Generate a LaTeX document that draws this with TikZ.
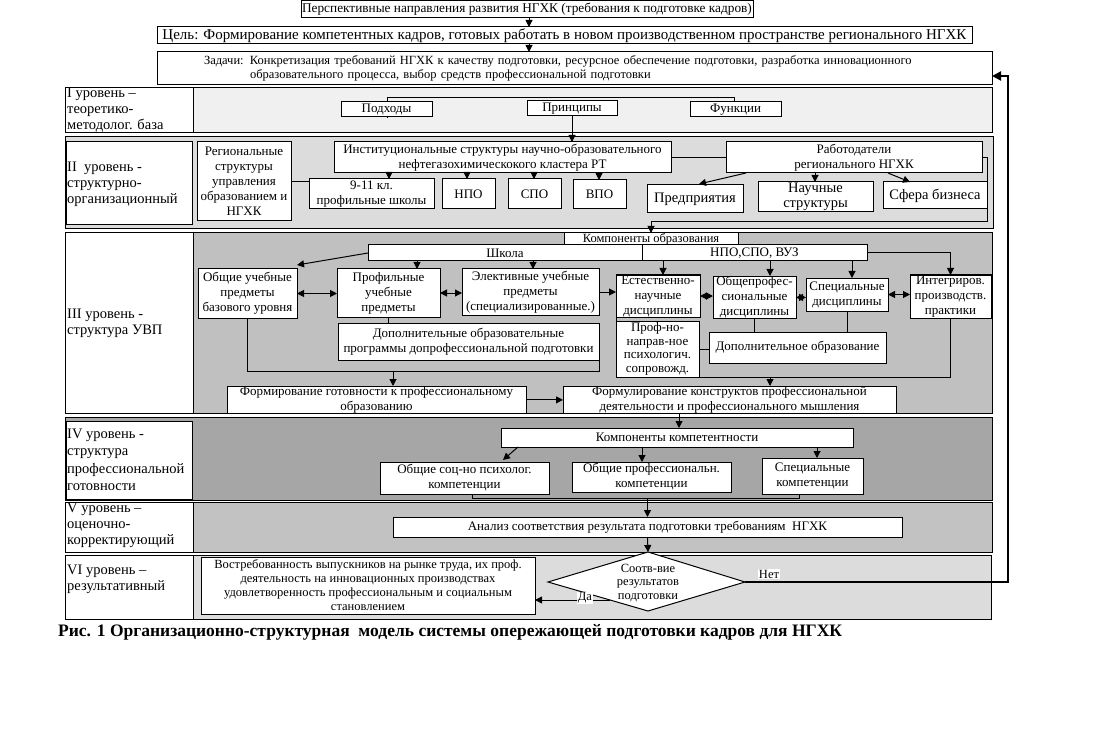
\documentclass[tikz,border=0pt]{standalone}
\usepackage{fontspec}
\setmainfont{Liberation Serif}
\usetikzlibrary{arrows.meta,calc}
\definecolor{lvA}{HTML}{F0F0F0}
\definecolor{lvB}{HTML}{DCDCDC}
\definecolor{lvC}{HTML}{C0C0C0}
\definecolor{lvD}{HTML}{A6A6A6}
\definecolor{lvE}{HTML}{C2C2C2}
\definecolor{lvF}{HTML}{DCDCDC}
\tikzset{
  box/.style={draw, fill=white, line width=1pt, inner sep=0.5pt, outer sep=0pt, align=center, font=\fontsize{13}{15}\selectfont},
  ln/.style={line width=1pt},
  arr/.style={line width=1pt, -{Triangle[length=7pt,width=7pt]}},
  dbl/.style={line width=1pt, {Triangle[length=7pt,width=7pt]}-{Triangle[length=7pt,width=7pt]}},
  thk/.style={line width=2pt, -{Triangle[length=9pt,width=9pt]}},
  rowbox/.style={draw, line width=1pt},
  lbl/.style={align=left, inner sep=0pt, font=\fontsize{14.5}{16}\selectfont},
  tag/.style={fill=white, inner sep=1pt, font=\fontsize{12.5}{14}\selectfont},
}
\newcommand\mybox[7][]{\node[box,anchor=north west,minimum width={(#4-#2)*1pt},minimum height={(#5-#3)*1pt},#1] (#6) at (#2,#3) {#7};}
\begin{document}
\begin{tikzpicture}[x=1pt,y=-1pt]
\useasboundingbox (0,0) rectangle (1098,730);
\fill[white] (0,0) rectangle (1098,730);
% ---------- top ----------
\mybox[font=\fontsize{13.3}{15}\selectfont]{301}{1}{753}{18}{t1}{Перспективные направления развития НГХК (требования к подготовке кадров)}
\mybox[font=\fontsize{15}{17}\selectfont]{157}{27}{972}{44}{t2}{Цель: Формирование компетентных кадров, готовых работать в новом производственном пространстве регионального НГХК}
\mybox[font=\fontsize{12.5}{14.5}\selectfont, align=left, text width=741pt]{157}{52}{992}{85}{t3}{Задачи: Конкретизация требований НГХК к качеству подготовки, ресурсное обеспечение подготовки, разработка инновационного\\\hspace*{46pt}образовательного процесса, выбор средств профессиональной подготовки}
\coordinate (ax) at (529,0);
\draw[arr] (t1.south -| ax) -- (t2.north -| ax);
\draw[arr] (t2.south -| ax) -- (t3.north -| ax);
% ---------- rows ----------
\draw[rowbox, fill=lvA] (65,88) rectangle (992,133);
\draw[rowbox, fill=white] (65,88) rectangle (193,133);
\node[lbl, anchor=north west] at (67,88) {I уровень –\\теоретико-\\методолог. база};
\draw[rowbox, fill=lvB] (65,137) rectangle (993,229);
\draw[rowbox, fill=white] (66,142) rectangle (192,225);
\node[lbl, anchor=west] at (67,184) {II~ уровень -\\структурно-\\организационный};
\draw[rowbox, fill=lvC] (65,233) rectangle (992,413);
\draw[rowbox, fill=white] (65,233) rectangle (193,413);
\node[lbl, anchor=west] at (67,323) {III уровень -\\структура УВП};
\draw[rowbox, fill=lvD] (65,417) rectangle (992,500);
\draw[rowbox, fill=white] (66,421) rectangle (192,499);
\node[lbl, anchor=west, font=\fontsize{14.5}{17.5}\selectfont] at (67,460) {IV уровень -\\структура\\профессиональной\\готовности};
\draw[rowbox, fill=lvE] (65,502) rectangle (992,552);
\draw[rowbox, fill=white] (65,502) rectangle (193,552);
\node[lbl, anchor=north west] at (67,503) {V уровень –\\оценочно-\\корректирующий};
\draw[rowbox, fill=lvF] (65,555) rectangle (991,619);
\draw[rowbox, fill=white] (65,555) rectangle (193,619);
\node[lbl, anchor=north west] at (67,565) {VI уровень –\\результативный};
% ---------- level I ----------
\draw[ln] (387,118) -- (387,98) -- (734,98) -- (734,102);
\mybox{341}{102}{432}{117}{pod}{Подходы}
\mybox{527}{101}{617}{116}{pri}{Принципы}
\mybox{690}{102}{781}{117}{fun}{Функции}
% ---------- level II ----------
\mybox{197}{142}{291}{221}{reg}{Региональные\\структуры\\управления\\образованием и\\НГХК}
\mybox{334}{142}{671}{173}{inst}{Институциональные структуры научно-образовательного\\нефтегазохимическокого кластера РТ}
\mybox{309}{179}{434}{209}{kl}{9-11 кл.\\профильные школы}
\mybox{442}{179}{495}{209}{npo}{НПО}
\mybox{508}{179}{561}{209}{spo}{СПО}
\mybox{573}{180}{626}{209}{vpo}{ВПО}
\mybox{726}{142}{982}{173}{rab}{Работодатели\\регионального НГХК}
\mybox[font=\fontsize{14.5}{16}\selectfont]{647}{185}{743}{213}{pred}{Предприятия}
\mybox[font=\fontsize{14.5}{15}\selectfont]{758}{182}{873}{212}{nauch}{Научные\\структуры}
\mybox[font=\fontsize{14.5}{16}\selectfont]{883}{182}{987}{209}{sfera}{Сфера бизнеса}
\draw[arr] (pri.south) -- (pri.south |- inst.north);
\draw[ln] (reg.east) -- (reg.east -| kl.west);
\draw[ln] (inst.east) -- (rab.west);
\draw[arr] ($(inst.south west)+(55,0)$) -- ($(kl.north west)+(80,0)$);
\draw[arr] ($(inst.south west)+(133,0)$) -- ($(npo.north west)+(25,0)$);
\draw[arr] ($(inst.south west)+(200,0)$) -- ($(spo.north west)+(26,0)$);
\draw[arr] ($(inst.south west)+(265,0)$) -- ($(vpo.north west)+(26,0)$);
\draw[arr] ($(rab.south west)+(20,0)$) -- ($(pred.north west)+(52,-1)$);
\draw[arr] ($(rab.south west)+(89,0)$) -- ($(nauch.north west)+(57,0)$);
\draw[arr] ($(rab.south west)+(162,0)$) -- ($(sfera.north west)+(27,0)$);
% ---------- level III ----------
\mybox[inner sep=0pt, font=\fontsize{12.5}{13}\selectfont]{564}{233}{738}{245}{komp}{Компоненты образования}
\mybox[inner sep=0pt]{368}{245}{642}{261}{shk}{Школа}
\mybox[inner sep=0pt]{642}{245}{867}{261}{vuz}{НПО,СПО, ВУЗ}
\coordinate (c1) at (987,222);
\draw[arr] (rab.east) -| (c1) -| (komp.north);
\mybox{198}{269}{297}{318}{obsh}{Общие учебные\\предметы\\базового уровня}
\mybox{337}{269}{440}{317}{prof}{Профильные\\учебные\\предметы}
\mybox{462}{269}{599}{315}{elek}{Элективные учебные\\предметы\\(специализированные.)}
\mybox{616}{275}{700}{316}{est}{Естественно-\\научные\\дисциплины}
\mybox{713}{276}{796}{318}{opr}{Общепрофес-\\сиональные\\дисциплины}
\mybox{806}{278}{888}{311}{spec}{Специальные\\дисциплины}
\mybox{910}{275}{991}{318}{integ}{Интегриров.\\производств.\\практики}
\mybox{338}{323}{599}{360}{dopa}{Дополнительные образовательные\\программы допрофессиональной подготовки}
\mybox[font=\fontsize{13}{13.6}\selectfont, inner sep=0pt]{616}{321}{699}{377}{pnp}{Проф-но-\\направ-ное\\психологич.\\сопровожд.}
\mybox{709}{332}{886}{363}{dopo}{Дополнительное образование}
\mybox{227}{386}{526}{413}{formg}{Формирование готовности к профессиональному\\образованию}
\mybox{563}{386}{896}{413}{formk}{Формулирование конструктов профессиональной\\деятельности и профессионального мышления}
\draw[arr] (shk.west) -- ($(obsh.north east)+(0,-4)$);
\draw[arr] ($(shk.south west)+(49,0)$) -- ($(prof.north west)+(80,0)$);
\draw[arr] ($(shk.south west)+(165,0)$) -- ($(elek.north west)+(71,0)$);
\draw[arr] ($(vuz.south west)+(21,0)$) -- ($(est.north west)+(47,0)$);
\draw[arr] ($(vuz.south west)+(128,0)$) -- ($(opr.north west)+(57,0)$);
\draw[arr] ($(vuz.south west)+(210,0)$) -- ($(spec.north west)+(46,0)$);
\draw[arr] (vuz.east) -| (integ.north);
\draw[dbl] (obsh.east) -- (obsh.east -| prof.west);
\draw[dbl] (prof.east) -- (prof.east -| elek.west);
\draw[arr] (elek.east) -- (elek.east -| est.west);
\draw[dbl] (est.east) -- (est.east -| opr.west);
\draw[dbl] (opr.east) -- (opr.east -| spec.west);
\draw[dbl] (spec.east) -- (spec.east -| integ.west);
\draw[ln] (prof.south) -- (prof.south |- dopa.north);
\draw[ln] (opr.south) -- (opr.south |- dopo.north);
\draw[ln] (spec.south) -- (spec.south |- dopo.north);
\draw[ln] (pnp.east) -- (pnp.east -| dopo.west);
\draw[ln] (est.south west) -- (pnp.north west);
\coordinate (lbR) at (599,371);
\draw[ln] (obsh.south) |- (lbR) -- (dopa.south east);
\coordinate (lbA) at (393,371);
\draw[arr] (lbA) -- (lbA |- formg.north);
\draw[ln] (pnp.south east) -- (pnp.south east -| integ.south) -- (integ.south);
\coordinate (rbA) at (770,377);
\draw[arr] (rbA) -- (rbA |- formk.north);
\draw[arr] (formg.east) -- (formg.east -| formk.west);
% ---------- level IV ----------
\mybox{501}{428}{853}{447}{kk}{Компоненты компетентности}
\mybox{380}{462}{549}{494}{oc}{Общие соц-но психолог.\\компетенции}
\mybox{572}{462}{731}{492}{op}{Общие профессиональн.\\компетенции}
\mybox{762}{458}{863}{494}{sc}{Специальные\\компетенции}
\draw[arr] ($(formk.south west)+(116,0)$) -- ($(kk.north west)+(178,0)$);
\draw[arr] ($(kk.south west)+(17,0)$) -- ($(oc.north west)+(123,-2)$);
\draw[arr] ($(kk.south west)+(141,0)$) -- ($(op.north west)+(70,0)$);
\draw[arr] ($(kk.south west)+(316,0)$) -- ($(sc.north west)+(55,0)$);
\draw[ln] ($(oc.south west)+(92,0)$) -- ++(0,4) -| ($(sc.south west)+(37,0)$);
% ---------- level V ----------
\mybox{393}{517}{902}{537}{an}{Анализ соответствия результата подготовки требованиям~ НГХК}
\coordinate (brk) at (647.5,498);
\draw[arr] (brk) -- (an.north);
% ---------- level VI ----------
\mybox[font=\fontsize{12.5}{14}\selectfont, inner sep=0pt]{201}{557}{535}{614}{vos}{Востребованность выпускников на рынке труда, их проф.\\деятельность на инновационных производствах\\удовлетворенность профессиональным и социальным\\становлением}
\coordinate (diaN) at (648,552);
\coordinate (diaE) at (745,582);
\coordinate (diaS) at (648,611);
\coordinate (diaW) at (548,582);
\draw[ln, fill=white] (diaW) -- (diaN) -- (diaE) -- (diaS) -- cycle;
\node[align=center, inner sep=0pt, font=\fontsize{12.5}{13.5}\selectfont] (dia) at (648,583) {Соотв-вие\\результатов\\подготовки};
\draw[arr] (an.south) -- (diaN);
\coordinate (fbA) at (1008,76);
\draw[thk] (diaE) -| (fbA) -- (fbA -| t3.east);
\node[tag] (net) at (769,574) {Нет};
\coordinate (daS) at (610,600);
\draw[arr] (daS) -- (daS -| vos.east);
\node[tag] (da) at (585,598) {Да};
% ---------- caption ----------
\node[anchor=west, inner sep=0pt, font=\fontsize{17.5}{20}\selectfont\bfseries] (cap) at (58,632) {Рис. 1 Организационно-структурная~ модель системы опережающей подготовки кадров для НГХК};
\end{tikzpicture}
\end{document}
